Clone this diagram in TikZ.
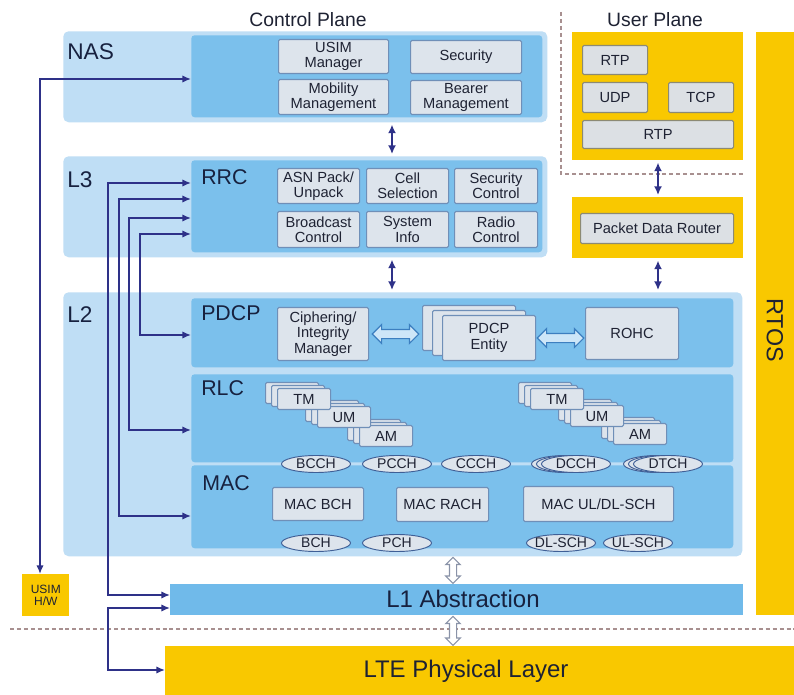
\documentclass[tikz,border=0pt]{standalone}
\usepackage{fontspec}
\setmainfont{Liberation Sans}
\usetikzlibrary{arrows.meta,shapes.geometric,shapes.arrows,calc}

\definecolor{outerblue}{HTML}{BFDEF5}
\definecolor{innerblue}{HTML}{7BC0EC}
\definecolor{l1blue}{HTML}{70BAEA}
\definecolor{boxfill}{HTML}{DDE4EC}
\definecolor{boxline}{HTML}{6F8FB8}
\definecolor{ufill}{HTML}{DCE0E4}
\definecolor{uline}{HTML}{8C8A74}
\definecolor{yel}{HTML}{F9C800}
\definecolor{navy}{HTML}{2E3188}
\definecolor{txt}{HTML}{1E2233}
\definecolor{lbltxt}{HTML}{17213F}
\definecolor{ellline}{HTML}{3F5F96}
\definecolor{dashc}{HTML}{A89090}
\definecolor{harline}{HTML}{3C7FC0}
\definecolor{harfill}{HTML}{CDE6F8}
\definecolor{varline}{HTML}{8A93A8}

\newcommand{\bx}[7][]{\node[#1, anchor=north west, minimum width={(#5-#3)*0.75pt}, minimum height={(#6-#4)*0.75pt}] (#2) at (#3,#4) {#7};}
\newcommand{\stk}[8]{%
 \node[gbox, anchor=north west, minimum width={#4*0.75pt}, minimum height={#5*0.75pt}] (#1c) at ({#2-2*#6},{#3-2*#7}) {};
 \node[gbox, anchor=north west, minimum width={#4*0.75pt}, minimum height={#5*0.75pt}] (#1b) at ({#2-#6},{#3-#7}) {};
 \node[gbox, anchor=north west, minimum width={#4*0.75pt}, minimum height={#5*0.75pt}] (#1) at (#2,#3) {#8};}
\newcommand{\zw}[1]{\makebox[0pt]{#1}}

\tikzset{
 outerbox/.style={fill=outerblue, rounded corners=4pt, inner sep=0pt},
 innerbox/.style={fill=innerblue, rounded corners=2.5pt, inner sep=0pt},
 gbox/.style={fill=boxfill, draw=boxline, line width=0.8pt, rounded corners=1pt, inner sep=0pt, align=center, text=txt, font=\fontsize{11}{11.5}\selectfont},
 ubox/.style={gbox, draw=uline, fill=ufill},
 ybox/.style={fill=yel, inner sep=0pt},
 biglbl/.style={anchor=west, inner sep=0pt, text=lbltxt, font=\fontsize{16}{16}\selectfont},
 planelbl/.style={inner sep=0pt, text=txt, font=\fontsize{14.5}{15}\selectfont},
 chan/.style={ellipse, draw=ellline, fill=boxfill, line width=0.7pt, inner sep=0pt, text=txt, font=\fontsize{10.5}{11}\selectfont, minimum height={17*0.75pt}, minimum width={69*0.75pt}},
 nav/.style={draw=navy, line width=1.4pt, {Latex[length=6.5pt,width=6pt]}-{Latex[length=6.5pt,width=6pt]}, shorten <=1.5pt, shorten >=1.5pt},
 conn/.style={draw=navy, line width=1.15pt, {Latex[length=6.5pt,width=5.5pt]}-{Latex[length=6.5pt,width=5.5pt]}},
 harrow/.style={double arrow, draw=harline, fill=harfill, line width=0.9pt, double arrow head extend=3.6pt, double arrow head indent=0pt, inner sep=0pt, minimum height=35pt},
 varrow/.style={double arrow, rotate=90, draw=varline, fill=white, line width=0.8pt, double arrow head extend=2.8pt, double arrow head indent=0pt, inner sep=0pt},
 dashln/.style={draw=dashc, line width=0.9pt, dash pattern=on 3pt off 2.2pt},
}

\begin{document}
\begin{tikzpicture}[x=0.75pt,y=-0.75pt]
\useasboundingbox (0,0) rectangle (794,695);
\fill[white] (0,0) rectangle (794,695);

% plane titles
\node[planelbl] (cptitle) at (308,20) {Control Plane};
\node[planelbl] (uptitle) at (655,20) {User Plane};

% dashed separators
\draw[dashln] (561,12) -- (561,174) -- (745,174);
\draw[dashln] (10,629) -- (794,629);

% outer layers
\bx[outerbox]{nasout}{63}{31}{547}{122}{}
\bx[outerbox]{l3out}{63}{156}{547}{257}{}
\bx[outerbox]{l2out}{63}{292}{742}{556}{}

% inner regions
\bx[innerbox]{nasin}{191}{35}{542}{117}{}
\bx[innerbox]{rrc}{191}{160}{542}{252}{}
\bx[innerbox]{pdcp}{191}{298}{733}{367}{}
\bx[innerbox]{rlc}{191}{374}{733}{462}{}
\bx[innerbox]{mac}{191}{465}{733}{548}{}

% layer labels
\node[biglbl, font=\fontsize{17}{17}\selectfont] (naslbl) at (67,52) {NAS};
\node[biglbl, font=\fontsize{17}{17}\selectfont] (l3lbl) at (67,180) {L3};
\node[biglbl, font=\fontsize{17}{17}\selectfont] (l2lbl) at (67,315) {L2};
\node[biglbl] (rrclbl) at (201,177) {RRC};
\node[biglbl] (pdcplbl) at (201,313) {PDCP};
\node[biglbl] (rlclbl) at (201,388) {RLC};
\node[biglbl] (maclbl) at (202,483) {MAC};

% NAS boxes
\bx[gbox]{usimm}{278}{39}{388}{73}{USIM\\Manager}
\bx[gbox]{mobm}{278}{79}{388}{114}{Mobility\\Management}
\bx[gbox]{sec}{410}{40}{521}{73}{Security}
\bx[gbox]{bearer}{410}{80}{521}{114}{Bearer\\Management}

% RRC boxes
\bx[gbox]{asn}{277}{168}{359}{203}{ASN Pack/\\Unpack}
\bx[gbox]{cell}{366}{168}{448}{203}{Cell\\Selection}
\bx[gbox]{secc}{454}{168}{537}{203}{Security\\Control}
\bx[gbox]{bcast}{277}{211}{359}{247}{Broadcast\\Control}
\bx[gbox]{sysi}{366}{211}{448}{247}{System\\Info}
\bx[gbox]{radio}{454}{211}{537}{247}{Radio\\Control}

% PDCP
\bx[gbox]{ciph}{277}{307}{368}{360}{Ciphering/\\Integrity\\Manager}
\stk{pdcpe}{442}{315}{93}{45}{10}{5}{PDCP\\Entity}
\bx[gbox]{rohc}{585}{307}{678}{359}{ROHC}
\node[harrow] (ha1) at ($(ciph.east)!0.5!(pdcpec.west |- ciph.east)$) {\rule{0pt}{6pt}};
\node[harrow] (ha2) at ($(pdcpe.east)!0.5!(rohc.west |- pdcpe.east)$) {\rule{0pt}{6pt}};

% RLC modes (drawn back to front)
\stk{aml}{359}{425}{53}{21}{6}{3}{AM}
\stk{uml}{317}{406}{53}{21}{6}{3}{UM}
\stk{tml}{277}{388}{53}{21}{6}{3}{TM}
\stk{amr}{613}{423}{53}{21}{6}{3}{AM}
\stk{umr}{570}{405}{53}{21}{6}{3}{UM}
\stk{tmr}{530}{388}{53}{21}{6}{3}{TM}

% logical channels
\node[chan] (bcch) at (316,464) {\zw{BCCH}};
\node[chan] (pcch) at (397,464) {\zw{PCCH}};
\node[chan] (ccch) at (476,464) {\zw{CCCH}};
\node[chan] (dcchc) at (566,464) {};
\node[chan] (dcchb) at (571,464) {};
\node[chan] (dcch) at (576,464) {\zw{DCCH}};
\node[chan] (dtchc) at (658,464) {};
\node[chan] (dtchb) at (663,464) {};
\node[chan] (dtch) at (668,464) {\zw{DTCH}};

% MAC
\bx[gbox]{macbch}{272}{487}{363}{520}{MAC BCH}
\bx[gbox]{macrach}{396}{487}{488}{521}{MAC RACH}
\bx[gbox]{macsch}{523}{486}{673}{521}{MAC UL/DL-SCH}
\node[chan] (bch) at (316,543) {\zw{BCH}};
\node[chan] (pch) at (397,543) {\zw{PCH}};
\node[chan] (dlsch) at (561,543) {\zw{DL-SCH}};
\node[chan] (ulsch) at (638,543) {\zw{UL-SCH}};

% user plane
\bx[ybox]{upbox}{572}{32}{743}{160}{}
\bx[ubox]{rtpa}{582}{45}{647}{74}{RTP}
\bx[ubox]{udp}{582}{82}{647}{112}{UDP}
\bx[ubox]{tcp}{668}{82}{733}{112}{TCP}
\bx[ubox]{rtpb}{582}{120}{733}{148}{RTP}
\bx[ybox]{pdrbox}{572}{197}{743}{258}{}
\bx[ubox]{pdr}{580}{213}{733}{243}{Packet Data Router}

% RTOS
\bx[ybox]{rtos}{756}{32}{794}{615}{}
\node[inner sep=0pt, rotate=-90, text=txt, font=\fontsize{17.5}{18}\selectfont] (rtoslbl) at (775,330) {RTOS};

% L1 and physical layer
\bx[fill=l1blue, inner sep=0pt]{l1}{170}{584}{743}{615}{}
\node[inner sep=0pt, text=lbltxt, font=\fontsize{18}{18}\selectfont] (l1lbl) at (463,599) {L1 Abstraction};
\bx[ybox]{lte}{165}{646}{794}{695}{}
\node[inner sep=0pt, text=txt, font=\fontsize{18}{18}\selectfont] (ltelbl) at (466,671) {LTE Physical Layer};
\bx[ybox, text=txt, align=center, font=\fontsize{9}{9.5}\selectfont]{usimhw}{22}{574}{69}{616}{USIM\\H/W}

% vertical navy arrows
\draw[nav] (nasout.south -| 392,0) -- (l3out.north -| 392,0);
\draw[nav] (l3out.south -| 392,0) -- (l2out.north -| 392,0);
\draw[nav] (upbox.south -| 658,0) -- (pdrbox.north -| 658,0);
\draw[nav] (pdrbox.south -| 658,0) -- (l2out.north -| 658,0);

% hollow vertical arrows
\node[varrow, minimum height={26*0.75pt}] (va1) at ($(l2out.south -| 453,0)!0.5!(l1.north -| 453,0)$) {\rule{0pt}{4.5pt}};
\node[varrow, minimum height={29*0.75pt}] (va2) at ($(l1.south -| 453,0)!0.5!(lte.north -| 453,0)$) {\rule{0pt}{4.5pt}};

% left connectors
\draw[conn] (nasin.west |- 0,79) -| (usimhw.north -| 40,0);
\draw[conn] (rrc.west |- 0,234) -- ++(-51,0) |- (pdcp.west |- 0,335);
\draw[conn] (rrc.west |- 0,218) -- ++(-62,0) |- (rlc.west |- 0,430);
\draw[conn] (rrc.west |- 0,199) -- ++(-72,0) |- (mac.west |- 0,516);
\draw[conn] (rrc.west |- 0,183) -- ++(-83,0) |- (l1.west |- 0,595);
\draw[conn] (l1.west |- 0,608) -- ++(-62,0) |- (lte.west |- 0,670);
\end{tikzpicture}
\end{document}
